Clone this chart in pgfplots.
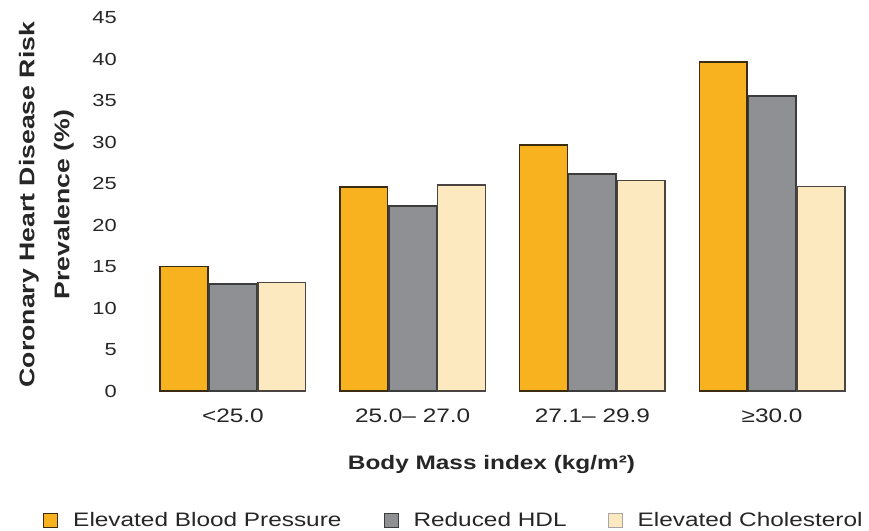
\documentclass[border=0pt]{standalone}
\usepackage{fontspec}
\setmainfont{Liberation Sans}[FakeStretch=1.25]
\usepackage{pgfplots}
\pgfplotsset{compat=1.18}
\definecolor{cOrange}{HTML}{F8B220}
\definecolor{cGray}{HTML}{8E9094}
\definecolor{cCream}{HTML}{FDE9BF}
\definecolor{eOrange}{HTML}{3A2C10}
\definecolor{eGray}{HTML}{3C3C3C}
\definecolor{eCream}{HTML}{4A4540}
\definecolor{txt}{HTML}{262626}
\begin{document}
\begin{tikzpicture}
\begin{axis}[
 scale only axis, width=719bp, height=373bp,
 xmin=-0.5, xmax=3.5, ymin=0, ymax=45,
 axis line style={draw=none}, major tick length=0pt, tick style={draw=none},
 xtick={0,1,2,3},
 xticklabels={{<25.0},{25.0– 27.0},{27.1– 29.9},{≥30.0}},
 ytick={0,5,...,45},
 /pgf/number format/assume math mode=true,
 yticklabel style={font=\fontsize{17.5bp}{20bp}\selectfont, text=txt, anchor=east, inner sep=0pt, xshift=-26bp},
 xticklabel style={font=\fontsize{19.5bp}{22bp}\selectfont, text=txt, anchor=center, inner sep=0pt, yshift=-25bp},
 xlabel={Body Mass index (kg/m²)},
 every axis x label/.style={at={(rel axis cs:0.4847,-0.196)}, anchor=center, font=\bfseries\fontsize{19.5bp}{22bp}\selectfont, text=txt},
 ylabel={Coronary Heart Disease Risk\\Prevalence (\%)},
 every axis y label/.style={at={(rel axis cs:-0.096,0.5)}, rotate=90, anchor=south, inner sep=0pt, align=center, font=\bfseries\fontsize{21.3bp}{35bp}\selectfont, text=txt},
 legend style={at={(rel axis cs:-0.139,-0.346)}, anchor=west, draw=none, fill=none, inner sep=0pt, legend columns=3,
   font=\fontsize{19.5bp}{22bp}\selectfont, text=txt, nodes={inner sep=0pt},
   /tikz/every odd column/.style={column sep=15bp},
   /tikz/column 2/.style={column sep=42bp},
   /tikz/column 4/.style={column sep=41bp}},
]
\addplot[ybar, bar width=0.265, bar shift=-0.272, fill=cOrange, draw=eOrange, line width=1.5bp,
  legend image code/.code={\draw[fill=cOrange, draw=eOrange, line width=1bp] (0bp,-7bp) rectangle (14bp,7bp);}]
  coordinates {(0,15.0) (1,24.6) (2,29.7) (3,39.7)};
\addlegendentry{Elevated Blood Pressure}
\addplot[ybar, bar width=0.265, bar shift=0, fill=cGray, draw=eGray, line width=1.5bp,
  legend image code/.code={\draw[fill=cGray, draw=eGray, line width=1bp] (0bp,-7bp) rectangle (14bp,7bp);}]
  coordinates {(0,12.9) (1,22.3) (2,26.2) (3,35.6)};
\addlegendentry{Reduced HDL}
\addplot[ybar, bar width=0.265, bar shift=0.272, fill=cCream, draw=eCream, line width=1.5bp,
  legend image code/.code={\draw[fill=cCream, draw=gray!70, line width=1bp] (0bp,-7bp) rectangle (14bp,7bp);}]
  coordinates {(0,13.1) (1,24.85) (2,25.4) (3,24.7)};
\addlegendentry{Elevated Cholesterol}
\end{axis}
\pgfresetboundingbox
\path (-143bp,-140bp) rectangle (726bp,391bp);
\end{tikzpicture}
\end{document}
